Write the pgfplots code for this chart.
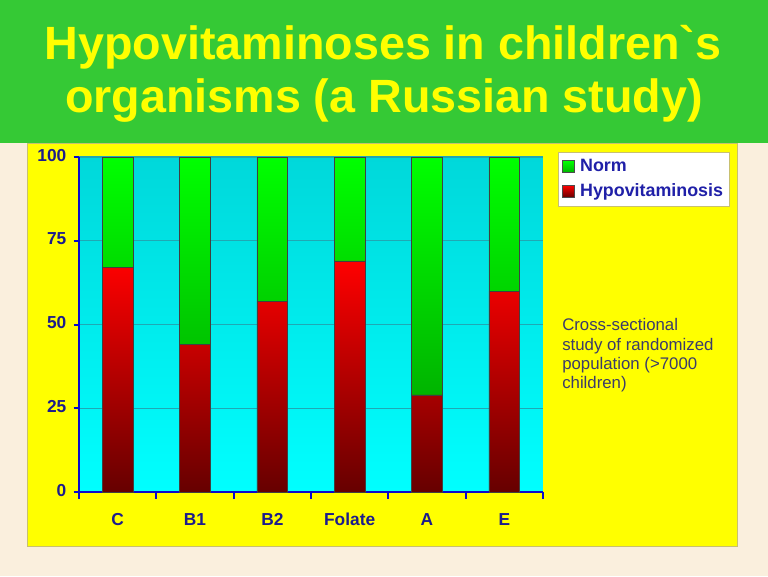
\documentclass[border=0pt]{standalone}
\usepackage{pgfplots}
\pgfplotsset{compat=1.18}
\usepackage{fontspec}
\setmainfont{Liberation Sans}
\definecolor{cream}{HTML}{FAEFDD}
\definecolor{banner}{HTML}{35C935}
\definecolor{titleyel}{HTML}{FFFF00}
\definecolor{panel}{HTML}{FFFF00}
\definecolor{panelborder}{HTML}{C8C070}
\definecolor{cyantop}{HTML}{00D8DA}
\definecolor{cyanbot}{HTML}{00FFFF}
\definecolor{gridc}{HTML}{1FA8B4}
\definecolor{axisblue}{HTML}{0A0ACC}
\definecolor{navy}{HTML}{1C1C8C}
\definecolor{legtext}{HTML}{2020A8}
\definecolor{slate}{HTML}{3B3B6B}
\definecolor{redtop}{HTML}{FF0000}
\definecolor{redbot}{HTML}{660000}
\definecolor{greentop}{HTML}{00FF00}
\definecolor{greenbot}{HTML}{00B400}
\pgfplotstableread{
x hypo norm
0 67 33
1 44 56
2 57 43
3 69 31
4 29 71
5 60 40
}\vitdata
\begin{document}
\begin{tikzpicture}[x=0.75pt,y=0.75pt]
\fill[cream] (0,0) rectangle (768,576);
\fill[banner] (0,433) rectangle (768,576);
\filldraw[fill=panel,draw=panelborder,line width=0.5pt] (27,30) rectangle (737,433);
\node[anchor=base,text=titleyel,font=\bfseries\fontsize{35}{40}\selectfont,inner sep=0] at (383,516) {Hypovitaminoses in children\textasciigrave s};
\node[anchor=base,text=titleyel,font=\bfseries\fontsize{35}{40}\selectfont,inner sep=0] at (384,463) {organisms (a Russian study)};
\begin{axis}[
  at={(59.25pt,63pt)}, anchor=south west,
  scale only axis, width=348pt, height=251.25pt,
  ybar stacked, bar width=0.4,
  xmin=-0.5, xmax=5.5, ymin=0, ymax=100,
  axis lines*=left,
  axis line style={axisblue,line width=1.5pt,-},
  axis background/.style={top color=cyantop,bottom color=cyanbot},
  xtick={0,1,2,3,4,5},
  xticklabels={C,B1,B2,Folate,A,E},
  minor xtick={-0.5,0.5,1.5,2.5,3.5,4.5,5.5},
  major x tick style={draw=none},
  minor x tick style={axisblue,line width=1.5pt},
  minor tick length=5pt,
  ytick={0,25,50,75,100},
  ytick style={axisblue,line width=1.5pt},
  major tick length=4pt,
  tick align=outside,
  ymajorgrids,
  grid style={gridc,line width=0.8pt},
  /pgf/number format/assume math mode=true,
  ticklabel style={font=\bfseries\fontsize{13}{15}\selectfont,text=navy},
  typeset ticklabels with strut,
  xticklabel style={yshift=-7pt},
  yticklabel style={xshift=-2pt},
  legend style={at={(rel axis cs:1.032,1.015)},anchor=north west,
    draw=panelborder,fill=white,font=\bfseries\fontsize{13.4}{15}\selectfont,
    text=legtext,inner xsep=3pt,inner ysep=3.5pt,row sep=3.5pt,
    /tikz/every odd column/.append style={column sep=2pt}},
  legend cell align=left,
  reverse legend,
  legend image code/.code={\draw[#1,draw=black!70,line width=0.5pt] (0pt,-4.5pt) rectangle (9pt,4.5pt);},
]
\addplot[draw=black!75,line width=0.5pt,top color=redtop,bottom color=redbot] table[x=x,y=hypo] {\vitdata};
\addlegendentry{Hypovitaminosis}
\addplot[draw=black!75,line width=0.5pt,top color=greentop,bottom color=greenbot] table[x=x,y=norm] {\vitdata};
\addlegendentry{Norm}
\end{axis}
\node[anchor=north west,align=left,inner sep=0,text=slate,font=\fontsize{12.6}{14.5}\selectfont] at (562,257.5) {Cross-sectional\\study of randomized\\population (>7000\\children)};
\pgfresetboundingbox
\useasboundingbox (0,0) rectangle (768,576);
\end{tikzpicture}
\end{document}
